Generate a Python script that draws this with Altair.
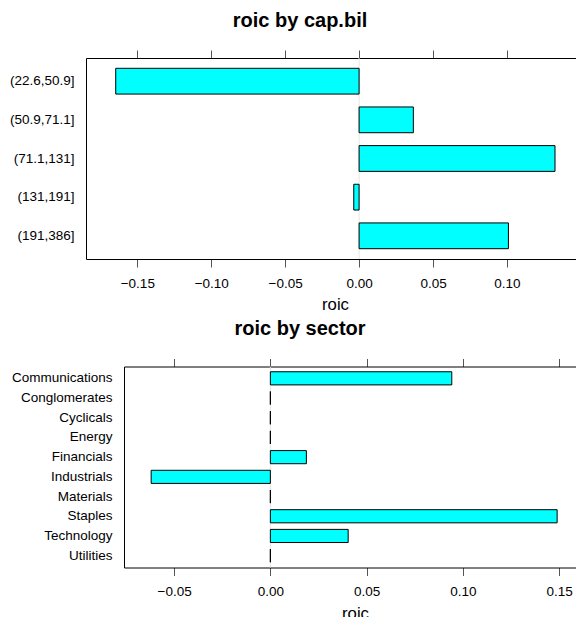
import altair as alt
import pandas as pd

FONT = "Liberation Sans"

cap_cats = ["(22.6,50.9]", "(50.9,71.1]", "(71.1,131]", "(131,191]", "(191,386]"]
cap_roic = [-0.1646, 0.0367, 0.1325, -0.0036, 0.1010]
cap_ticks = [-0.15, -0.10, -0.05, 0.0, 0.05, 0.10]

sec_cats = ["Communications", "Conglomerates", "Cyclicals", "Energy", "Financials",
            "Industrials", "Materials", "Staples", "Technology", "Utilities"]
sec_roic = [0.0942, 0.0, 0.0, 0.0, 0.0187, -0.0619, 0.0, 0.1489, 0.0404, 0.0]
sec_ticks = [-0.05, 0.0, 0.05, 0.10, 0.15]

W = 490
H = 201


def panel(cats, vals, ticks, domain, left, title_text, xtitle_x):
    df = pd.DataFrame({"cat": cats, "roic": vals, "zero": [0.0] * len(cats)})
    xscale = alt.Scale(domain=domain, range=[left, W], nice=False, zero=False)
    yscale = alt.Scale(domain=cats, paddingInner=1 / 3, paddingOuter=0.2667)

    ref = alt.Chart(pd.DataFrame({"z": [0.0]})).mark_rule(
        color="#e6e6e6", strokeWidth=1
    ).encode(
        x=alt.X("z:Q", scale=xscale,
                axis=alt.Axis(orient="top", labels=False, ticks=True, tickSize=8,
                              tickColor="#555", domain=True, domainColor="black",
                              grid=False, values=ticks, title=None))
    )

    bars = alt.Chart(df).mark_bar(
        fill="#00FFFF", stroke="black", strokeWidth=1
    ).encode(
        x=alt.X("roic:Q", scale=xscale,
                axis=alt.Axis(orient="bottom", values=ticks, format=".2f",
                              tickSize=8, tickColor="#555", domain=True,
                              domainColor="black", grid=False,
                              labelFont=FONT, labelFontSize=13.5, labelColor="black",
                              labelPadding=9, title="roic", titleFont=FONT,
                              titleFontSize=16.7, titleFontWeight="normal",
                              titleColor="black", titlePadding=7, titleX=xtitle_x)),
        x2="zero:Q",
        y=alt.Y("cat:N", scale=yscale, sort=cats,
                axis=alt.Axis(title=None, ticks=False, domain=True, domainColor="black",
                              labelFont=FONT, labelFontSize=13.5, labelColor="black",
                              labelPadding=12, offset=-left,
                              minExtent=78, maxExtent=78)),
    )

    return alt.layer(ref, bars).resolve_axis(x="independent").properties(
        width=W, height=H,
        title=alt.TitleParams(title_text, font=FONT, fontSize=20, fontWeight="bold",
                              color="black", anchor="middle", frame="group",
                              dx=-31, offset=19),
    )


top = panel(cap_cats, cap_roic, cap_ticks, [-0.1847, 0.1467], 0, "roic by cap.bil", 249)
bot = panel(sec_cats, sec_roic, sec_ticks, [-0.076, 0.1587], 38, "roic by sector", 269)

chart = alt.vconcat(top, bot, spacing=4.5).properties(
    padding={"left": 0, "top": 2, "right": 0, "bottom": 0}
).configure_view(stroke=None)

chart.save("out.html", embed_options={"renderer": "svg", "actions": False})
